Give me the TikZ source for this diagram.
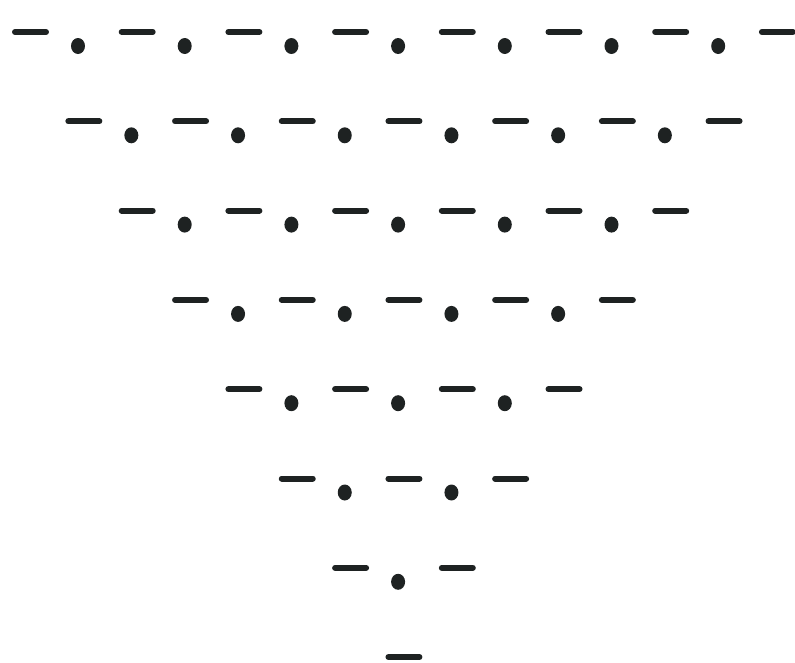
\documentclass[tikz,border=0pt]{standalone}
\usepackage{xcolor}
\usepackage{tikz}
\definecolor{inkdark}{HTML}{1E2222}

\begin{document}
\begin{tikzpicture}[x=0.02cm,y=-0.02cm,
    dashmark/.style={inkdark,line width=0.12cm,line cap=round},
    dotmark/.style={inkdark,fill=inkdark}]
  \useasboundingbox (0,0) rectangle (795,663);
  % rows shrink by one dash each step down
  \foreach \r in {0,...,7} {
    \pgfmathsetmacro{\ry}{32+89.3*\r}
    \pgfmathtruncatemacro{\nd}{7-\r}
    \foreach \k in {0,...,\nd} {
      \pgfmathsetmacro{\dx}{30.5+53.35*\r+106.7*\k}
      \draw[dashmark] (\dx-15.5,\ry) -- (\dx+15.5,\ry);
    }
    \ifnum\r<7
      \pgfmathtruncatemacro{\nb}{6-\r}
      \foreach \k in {0,...,\nb} {
        \pgfmathsetmacro{\bx}{30.5+53.35*\r+106.7*\k+47.5}
        \fill[dotmark] (\bx,\ry+14) ellipse [x radius=0.14cm,y radius=0.16cm];
      }
    \fi
  }
\end{tikzpicture}
\end{document}
